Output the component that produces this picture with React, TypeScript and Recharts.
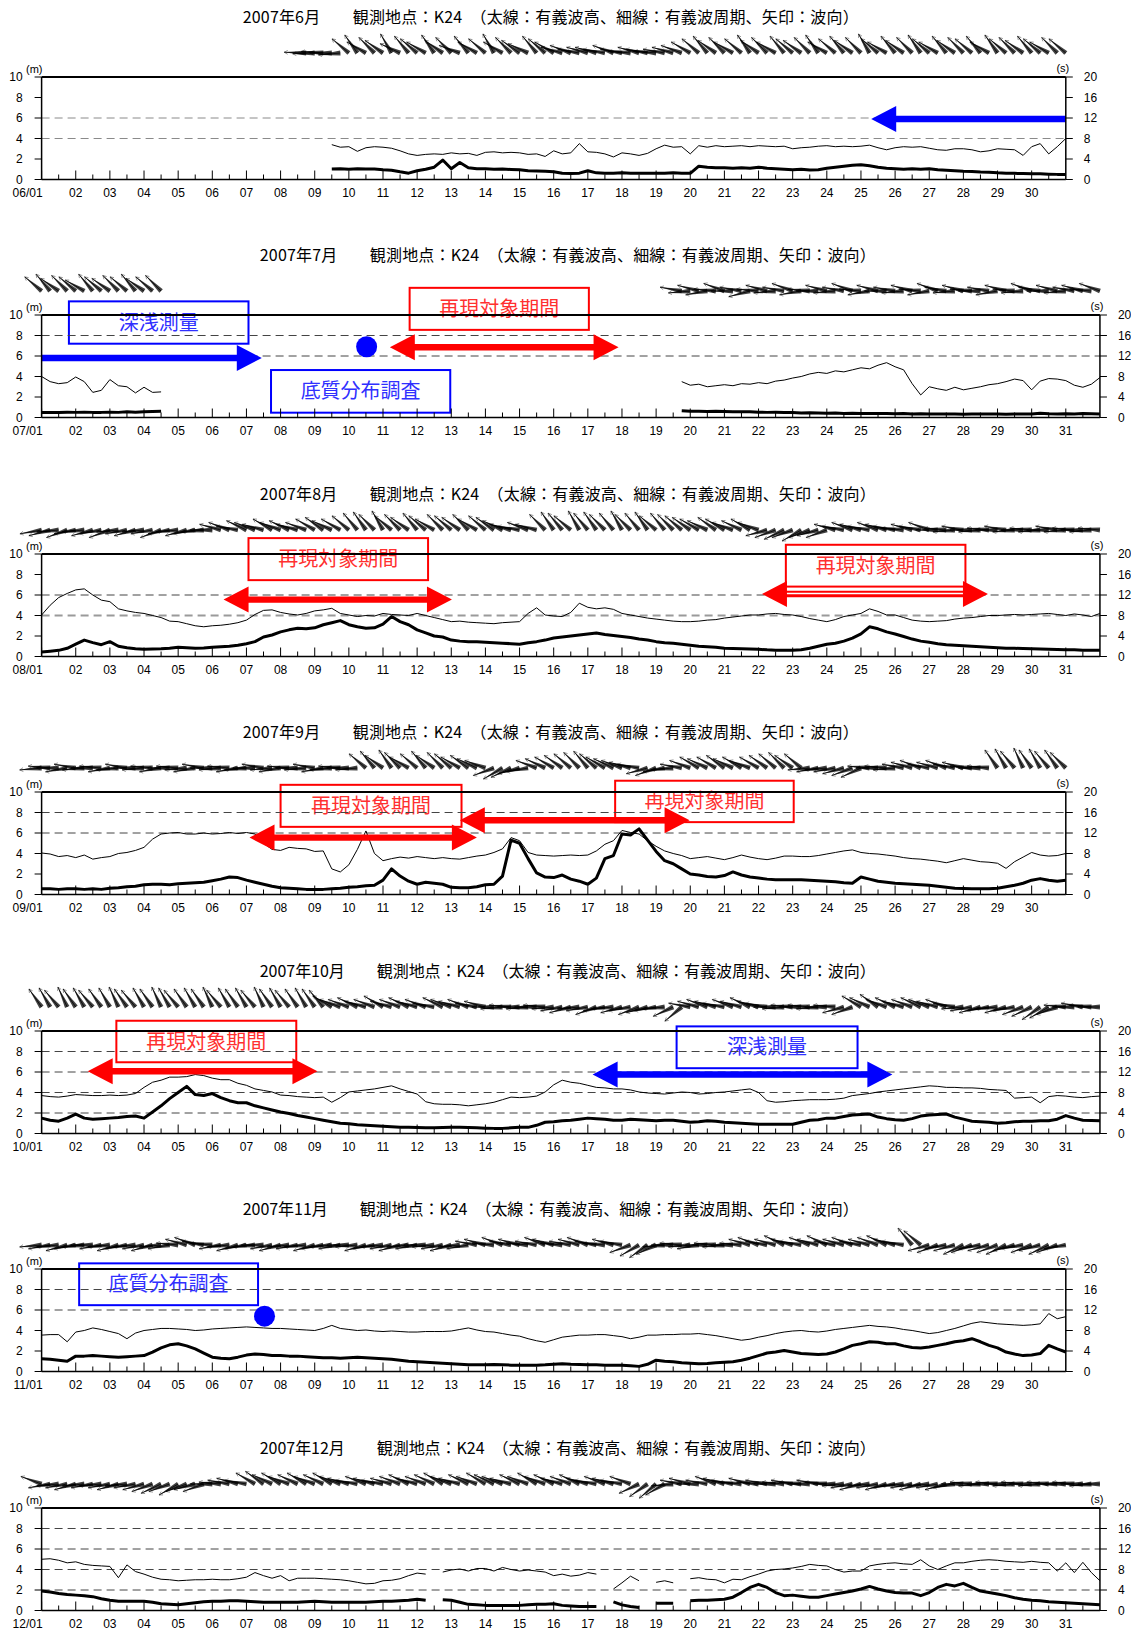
import React from 'react';
import { ComposedChart, Line, XAxis, YAxis, ReferenceLine, ReferenceArea, ReferenceDot, Scatter } from 'recharts';

const PAGE_W = 1131;
const PAGE_H = 1630;
const PLOT_LEFT = 41.6;
const DAY_W = 34.14;
const PLOT_H = 102.5;
const FIRST_TOP = 76.7;
const PANEL_STEP = 238.5;
const CHART_PAD_TOP = 60;
const X_AXIS_H = 30;
const CHART_H = 200;
const STRIP_H = 60;
const STRIP_GAP = 24;
const ARROW_LEN = 22;

const H_TICKS = [0, 2, 4, 6, 8, 10];
const T_TICKS = [0, 4, 8, 12, 16, 20];
const DAY_LABELS = ['01','02','03','04','05','06','07','08','09','10','11','12','13','14','15','16','17','18','19','20','21','22','23','24','25','26','27','28','29','30','31'];

// ---------------- June ----------------
const junH = [1.02,1.04,
 1.0,1.04,1.02,1.03, 0.95,0.9,0.75,0.62, 0.85,1.0,1.2,1.9, 1.05,1.65,1.15,1.05,
 1.05,1.0,1.02,0.98, 0.95,0.85,0.82,0.8, 0.75,0.6,0.58,0.62, 0.85,0.65,0.62,0.6,
 0.65,0.6,0.62,0.6, 0.62,0.6,0.65,0.62, 0.6,1.3,1.2,1.15, 1.15,1.1,1.15,1.1,
 1.2,1.1,1.05,1.0, 0.95,1.0,0.92,0.95, 1.1,1.2,1.3,1.4, 1.45,1.35,1.2,1.1,
 1.05,1.0,1.05,1.0, 1.05,0.95,0.9,0.85, 0.8,0.78,0.72,0.7, 0.65,0.62,0.6,0.58,
 0.55,0.55,0.52,0.5, 0.5];
const junT = [6.8,6.3,
 6.4,5.5,6.2,6.4, 6.3,6.1,5.6,5.0, 4.7,4.9,5.0,4.9, 5.2,5.0,5.1,4.7,
 5.3,5.4,5.2,5.3, 5.2,4.9,5.0,4.5, 5.6,5.0,5.2,7.0, 5.4,5.3,5.0,4.4,
 5.2,5.0,4.7,5.1, 6.0,6.7,6.3,6.4, 5.0,6.6,6.3,6.6, 6.4,6.5,6.6,6.4,
 6.6,6.5,6.4,6.5, 6.0,6.2,6.3,6.5, 6.6,6.4,6.5,6.4, 6.5,6.7,6.2,5.8,
 6.2,6.4,6.3,6.4, 6.1,5.8,5.7,6.0, 6.0,5.8,5.4,5.6, 6.0,5.9,5.8,4.7,
 6.4,7.0,5.0,6.4, 8.0];
const junA = [-178,178,-176,180,175,
 -140,-125,-150,-135,-145,-120,-155,-130,-140,-150,-125,-145,-135,-160,-130,-150,-140,-120,-150,-135,-145,-155,-130,-140,-150,-165,-160,-170,-165,
 -165,-170,-160,-170,-175,-165,-170,-175,-170,-165,-160,-150,
 -140,-130,-145,-135,-150,-140,-125,-145,-135,-150,-130,-140,-145,-135,-125,-150,-140,-130,-145,-135,-120,-140,-150,-130,-145,-135,-125,-140,-150,-130,-145,-135,-140,-130,-150,-125,-140,-135,-145,-130,-140,-150,-135,-140];
const junGrid = [6, 4];
const junBoxes = [];
const junArrows = [{ x1: 30.0, x2: 24.3, y: 5.9, c: 'blue', dbl: false }];
const junDots = [];

// ---------------- July ----------------
const julH1 = [0.5,0.5,0.48,0.52, 0.5,0.52,0.5,0.5, 0.52,0.5,0.55,0.52, 0.55,0.58,0.6];
const julT1 = [8.0,7.0,6.6,6.8, 7.9,7.0,4.9,5.3, 7.4,6.2,6.0,4.8, 5.9,4.9,5.0];
const julH2 = [0.65,
 0.6,0.62,0.58,0.6, 0.58,0.55,0.57,0.55, 0.52,0.5,0.52,0.48, 0.48,0.45,0.47,0.45,
 0.42,0.44,0.4,0.42, 0.4,0.38,0.4,0.38, 0.36,0.38,0.35,0.37, 0.35,0.33,0.35,0.34,
 0.32,0.34,0.33,0.35, 0.33,0.32,0.35,0.33, 0.34,0.42,0.36,0.35, 0.37,0.35,0.38,0.36, 0.35];
const julT2 = [7.0,
 6.3,6.5,6.0,6.2, 6.4,6.2,6.6,6.5, 6.8,6.6,7.1,7.3, 7.7,8.0,8.5,8.8,
 8.6,9.1,8.9,9.3, 9.7,9.5,10.2,10.7, 9.9,9.3,6.6,4.4, 6.0,5.6,5.3,5.9,
 5.4,5.7,6.0,6.4, 6.6,7.0,7.5,7.2, 5.4,7.1,7.6,7.5, 7.2,6.3,5.9,6.5, 7.8];
const julA1 = [-140,-130,-145,-135,-140,-150,-130,-140,-145,-135,-140,-130,-145,-140,-135];
const julA2 = [-170,175,-165,170,-175,-160,180,-170,165,-175,-165,175,-170,-160,170,-175,180,-165,175,-170,-160,-175,170,-165,180,-170,175,-165,-175,170,-160,-170,175,-165,-175,180,-170,170,-165,-175,175,-160,-170,180,-165,175,-170,-165,-175,-160];
const julGrid = [8, 6];
const julBoxes = [
  { x1: 0.8, x2: 6.06, y1: 7.2, y2: 11.33, text: '深浅測量', c: 'blue' },
  { x1: 10.78, x2: 16.03, y1: 8.55, y2: 12.65, text: '再現対象期間', c: 'red' },
  { x1: 6.72, x2: 11.97, y1: 0.47, y2: 4.63, text: '底質分布調査', c: 'blue' },
];
const julArrows = [
  { x1: 0, x2: 6.45, y: 5.8, c: 'blue', dbl: false },
  { x1: 10.2, x2: 16.9, y: 6.85, c: 'red', dbl: true },
];
const julDots = [{ x: 9.52, y: 6.9, c: 'blue' }];

// ---------------- August ----------------
const augH = [0.45,0.52,0.6,0.8, 1.2,1.6,1.35,1.15, 1.45,1.0,0.85,0.75, 0.7,0.72,0.75,0.8,
 0.9,0.85,0.8,0.82, 0.9,0.95,1.0,1.1, 1.25,1.45,1.9,2.1, 2.4,2.6,2.75,2.7,
 2.8,3.1,3.3,3.5, 3.1,2.9,2.75,2.8, 3.15,3.9,3.4,3.1, 2.6,2.3,2.0,1.9,
 1.6,1.5,1.45,1.45, 1.4,1.35,1.3,1.25, 1.2,1.35,1.45,1.6, 1.8,1.9,2.0,2.1,
 2.2,2.3,2.15,2.05, 1.95,1.85,1.7,1.6, 1.45,1.35,1.3,1.2, 1.1,1.0,0.95,0.9,
 0.8,0.78,0.75,0.72, 0.7,0.65,0.62,0.6, 0.6,0.65,0.8,1.0, 1.2,1.3,1.5,1.8,
 2.2,2.9,2.7,2.4, 2.2,1.95,1.7,1.5, 1.4,1.25,1.15,1.1, 1.05,1.0,0.95,0.9,
 0.85,0.8,0.8,0.78, 0.75,0.72,0.7,0.68, 0.65,0.65,0.62,0.6, 0.6];
const augT = [8.1,10.0,11.5,12.3, 13.0,13.2,12.0,11.0, 10.7,9.3,8.9,8.6, 8.4,8.0,7.6,6.9,
 6.8,6.4,6.0,5.8, 6.0,6.1,6.3,6.6, 7.1,8.2,9.0,9.1, 8.6,8.3,8.1,8.4,
 8.9,9.1,9.4,8.4, 8.1,7.8,8.0,7.9, 8.4,8.2,8.1,8.0, 8.4,8.0,7.6,7.2,
 6.8,6.9,6.7,6.6, 6.5,6.4,6.6,6.7, 6.8,8.4,9.5,8.1, 7.9,7.8,8.6,10.4,
 9.6,9.3,9.5,9.2, 8.4,8.1,7.8,7.5, 7.3,7.1,6.9,6.8, 6.8,6.9,7.1,7.2,
 7.5,7.7,7.9,8.1, 8.1,8.3,8.4,8.2, 8.1,7.8,7.4,7.1, 6.8,7.2,7.8,8.1,
 8.4,9.3,8.8,8.1, 8.1,7.6,7.1,6.9, 6.8,6.9,7.0,7.3, 7.5,7.6,7.8,8.0,
 8.0,8.1,8.2,8.1, 8.2,8.3,8.4,8.2, 8.0,8.3,8.1,7.8, 8.4];
const augA = [170,165,175,160,170,175,165,170,160,175,170,165,175,170,160,170,175,165,170,175,180,
 -165,-160,-170,-155,-160,-165,-150,-160,-155,-165,-160,-150,-145,-155,-150,-140,
 -130,-125,-135,-120,
 -140,-135,-145,-130,-140,-150,-135,-140,-145,-135,-150,-140,-145,-155,
 -165,-170,-160,-165,
 -135,-125,-130,-140,-120,-130,-125,-135,-130,-120,-135,-130,-125,-140,-130,-135,-140,-145,
 -150,-155,-145,-150,-160,-155,-150,-160,
 165,160,155,160,150,160,165,160,
 -165,-170,-160,-165,-170,-160,-165,-170,-175,-165,-170,-160,
 180,-175,175,-170,180,175,-175,180,-170,175,180,-175,175,180,-170,175,-175,180,175,-175];
const augGrid = [6, 4];
const augBoxes = [
  { x1: 6.06, x2: 11.32, y1: 7.45, y2: 11.55, text: '再現対象期間', c: 'red' },
  { x1: 21.8, x2: 27.06, y1: 6.82, y2: 10.9, text: '再現対象期間', c: 'red' },
];
const augArrows = [
  { x1: 5.33, x2: 12.02, y: 5.55, c: 'red', dbl: true },
  { x1: 21.1, x2: 27.72, y: 6.1, c: 'red', dbl: true, stripe: true },
];
const augDots = [];

// ---------------- September ----------------
const sepH = [0.55,0.55,0.5,0.55, 0.55,0.5,0.55,0.5, 0.6,0.65,0.75,0.8, 0.95,1.0,1.0,0.95,
 1.05,1.1,1.15,1.2, 1.35,1.5,1.7,1.65, 1.4,1.2,1.0,0.8, 0.65,0.6,0.55,0.5,
 0.5,0.5,0.55,0.6, 0.7,0.75,0.85,0.9, 1.4,2.5,1.8,1.3, 1.0,1.2,1.1,1.0,
 0.7,0.65,0.65,0.75, 0.95,1.0,1.8,5.3, 5.0,3.5,2.1,1.7, 1.65,1.9,1.5,1.3,
 1.0,1.6,3.5,3.8, 5.9,5.8,6.4,5.3, 4.2,3.3,3.0,2.5, 2.0,1.9,1.75,1.7,
 1.85,2.2,1.9,1.7, 1.6,1.5,1.45,1.45, 1.45,1.45,1.4,1.35, 1.3,1.25,1.15,1.1,
 1.7,1.5,1.3,1.2, 1.1,1.05,1.0,0.95, 0.9,0.8,0.7,0.6, 0.58,0.55,0.55,0.55,
 0.6,0.75,0.9,1.1, 1.4,1.55,1.4,1.3, 1.4];
const sepT = [8.1,7.9,7.4,7.6, 7.2,7.7,6.9,7.2, 7.4,8.0,8.2,8.6, 9.2,10.8,11.8,12.0,
 12.1,11.8,11.8,12.0, 11.8,11.9,12.1,11.9, 12.1,11.8,10.0,8.8, 8.6,9.2,9.0,8.9,
 8.4,8.5,5.0,4.4, 5.8,8.8,12.4,8.0, 6.6,7.0,7.3,7.1, 7.4,7.2,7.0,7.2,
 7.0,6.9,7.2,7.5, 7.7,8.2,8.9,11.1, 10.5,8.2,7.7,7.6, 7.5,7.6,7.7,7.6,
 7.7,8.5,9.8,10.5, 12.5,12.1,11.8,10.5, 9.4,8.5,8.0,7.6, 7.0,7.2,7.4,7.1,
 6.8,7.2,7.7,7.3, 7.0,6.8,7.1,7.5, 7.5,7.4,7.4,7.6, 7.9,8.2,8.5,8.7,
 8.2,8.0,7.9,7.7, 7.5,7.2,7.0,6.9, 6.7,6.5,6.2,6.6, 7.0,6.7,6.4,6.3,
 6.1,5.1,6.4,7.3, 8.2,7.7,7.5,7.6, 8.0];
const sepA = [175,-175,180,170,-170,175,180,-175,170,175,-170,180,175,-175,170,180,-175,175,170,-170,180,175,-175,170,175,180,-170,175,170,-175,180,175,-170,170,175,-175,180,175,
 -140,-130,-145,-125,-135,-150,-140,-130,-145,-135,-140,-150,-145,-155,-160,
 160,150,155,165,170,
 -160,-155,-150,-145,-140,-135,-130,-140,-150,-155,-160,-165,-170,
 165,160,170,175,
 -170,-160,-150,-155,-150,-145,-155,-150,-160,-150,-145,
 -140,-135,-145,-140,
 175,170,175,170,165,
 160,155,
 -175,180,-175,175,-170,
 -165,-160,-170,-165,-160,-170,-165,
 -175,180,-175,
 -125,-120,-130,-115,-125,-120,-130,-125,-135];
const sepGrid = [8, 6];
const sepBoxes = [
  { x1: 7.0, x2: 12.3, y1: 6.6, y2: 10.7, text: '再現対象期間', c: 'red' },
  { x1: 16.8, x2: 22.03, y1: 7.06, y2: 11.1, text: '再現対象期間', c: 'red' },
];
const sepArrows = [
  { x1: 6.09, x2: 12.75, y: 5.55, c: 'red', dbl: true },
  { x1: 12.25, x2: 18.98, y: 7.25, c: 'red', dbl: true },
];
const sepDots = [];

// ---------------- October ----------------
const octH = [1.5,1.3,1.2,1.5, 1.9,1.5,1.4,1.45, 1.5,1.55,1.65,1.7, 1.5,2.1,2.7,3.4,
 4.0,4.6,3.8,3.7, 3.9,3.5,3.2,3.0, 3.0,2.7,2.5,2.3, 2.1,1.95,1.75,1.6,
 1.45,1.3,1.15,1.0, 0.95,0.85,0.8,0.75, 0.7,0.65,0.6,0.6, 0.58,0.55,0.55,0.58,
 0.6,0.6,0.58,0.55, 0.52,0.5,0.5,0.55, 0.6,0.6,0.8,1.1, 1.15,1.25,1.3,1.4,
 1.5,1.45,1.4,1.3, 1.3,1.4,1.35,1.3, 1.25,1.3,1.3,1.2, 1.1,1.15,1.25,1.2,
 1.1,1.05,1.0,0.95, 0.9,0.9,0.9,0.9, 0.9,1.1,1.3,1.35, 1.5,1.5,1.65,1.8,
 1.85,1.9,1.6,1.45, 1.35,1.3,1.45,1.7, 1.8,1.85,1.9,1.6, 1.4,1.2,1.15,1.1,
 1.0,1.05,1.15,1.2, 1.2,1.25,1.25,1.4, 1.75,1.5,1.3,1.28, 1.25];
const octT = [7.4,7.2,7.1,7.3, 7.6,7.5,7.4,7.4, 7.5,7.4,7.5,7.8, 9.0,10.0,10.4,11.0,
 11.0,11.1,11.5,11.3, 10.8,10.5,10.5,9.8, 9.4,8.7,8.4,8.1, 7.5,7.4,7.2,7.1,
 7.0,7.1,6.1,7.0, 8.1,8.3,8.5,8.7, 9.0,9.3,8.7,8.2, 7.7,6.2,5.8,5.7,
 5.7,5.6,5.4,5.6, 5.8,6.1,6.6,7.1, 7.0,7.1,7.3,8.1, 9.5,10.4,10.0,9.8,
 9.4,9.0,8.9,8.7, 8.7,8.5,8.1,7.9, 7.8,7.7,7.9,8.1, 8.0,7.7,7.8,8.0,
 8.1,8.3,8.5,8.7, 8.0,6.4,6.1,6.2, 6.4,6.5,6.6,6.6, 6.6,6.7,6.9,7.4,
 7.6,7.8,8.1,8.3, 8.5,8.7,8.9,9.1, 9.3,9.2,9.0,9.0, 8.9,8.9,8.8,8.6,
 8.5,8.4,6.9,7.0, 7.1,6.0,7.2,7.4, 7.3,7.1,7.0,7.2, 7.3];
const octA = [-125,-120,-130,-115,-125,-120,-130,-125,-120,-115,-125,-130,-120,-125,-115,-120,-130,-125,-120,-125,-115,-130,-120,-125,-120,-130,-115,-125,-120,-130,-125,-120,-125,-130,
 -150,-160,
 -160,-155,-165,-160,-150,-165,-160,-155,-165,-160,-170,-155,-160,-165,-160,-170,-165,
 180,175,-175,180,175,180,-175,175,
 170,165,175,170,160,170,175,165,170,160,165,170,175,155,140,
 -170,-165,-160,-165,-170,-160,-165,-155,-165,-170,
 180,175,-175,180,-175,175,180,-175,
 165,160,-150,
 -155,-145,-160,-155,-165,-160,-155,-160,-165,-160,-170,
 175,170,165,170,175,165,170,160,
 155,145,150,160,
 -175,180,-170,-175,180];
const octGrid = [8, 6, 4, 2];
const octBoxes = [
  { x1: 2.19, x2: 7.46, y1: 6.95, y2: 11.0, text: '再現対象期間', c: 'red' },
  { x1: 18.6, x2: 23.9, y1: 6.37, y2: 10.45, text: '深浅測量', c: 'blue' },
];
const octArrows = [
  { x1: 1.35, x2: 8.08, y: 6.08, c: 'red', dbl: true },
  { x1: 16.14, x2: 24.92, y: 5.75, c: 'blue', dbl: true },
];
const octDots = [];

// ---------------- November ----------------
const novH = [1.25,1.2,1.1,1.0, 1.5,1.5,1.55,1.5, 1.45,1.4,1.45,1.5, 1.55,1.9,2.3,2.6,
 2.7,2.5,2.2,1.8, 1.4,1.3,1.25,1.4, 1.6,1.7,1.65,1.55, 1.55,1.5,1.5,1.45,
 1.4,1.35,1.35,1.3, 1.35,1.4,1.35,1.3, 1.25,1.2,1.1,1.0, 0.95,0.9,0.85,0.8,
 0.75,0.7,0.65,0.65, 0.65,0.68,0.65,0.62, 0.62,0.6,0.62,0.65, 0.7,0.75,0.7,0.68,
 0.65,0.65,0.62,0.6, 0.6,0.55,0.5,0.7, 1.1,1.0,0.95,0.85, 0.8,0.75,0.78,0.85,
 0.9,0.95,1.1,1.3, 1.55,1.8,1.9,2.05, 1.9,1.75,1.7,1.65, 1.7,1.9,2.2,2.55,
 2.7,2.9,2.85,2.7, 2.7,2.5,2.35,2.3, 2.4,2.55,2.7,2.9, 3.0,3.2,2.9,2.55,
 2.3,1.9,1.7,1.55, 1.6,1.75,2.55,2.2, 1.9];
const novT = [7.1,7.2,7.2,5.8, 7.7,8.0,8.5,8.2, 7.8,7.4,6.4,7.5, 8.0,8.2,8.4,8.4,
 8.3,8.2,8.0,8.1, 8.3,8.4,8.5,8.6, 8.7,8.6,8.5,8.4, 8.4,8.3,8.2,8.1,
 8.0,8.4,9.0,8.4, 8.2,8.0,8.1,7.9, 7.8,7.9,7.8,7.7, 7.7,7.8,7.8,7.8,
 7.9,8.2,8.5,8.1, 7.8,7.7,7.4,7.1, 6.9,6.4,6.0,5.7, 6.2,6.7,6.9,7.1,
 7.1,7.2,7.2,7.0, 6.8,6.4,6.7,7.1, 7.1,7.2,7.2,7.3, 7.3,7.4,7.2,7.0,
 6.7,6.4,6.1,6.3, 6.7,7.0,7.4,7.7, 7.9,8.0,7.8,7.7, 7.9,8.2,8.4,8.6,
 8.8,9.0,8.8,8.7, 8.5,8.2,8.0,7.7, 7.4,7.6,8.0,8.4, 8.9,9.4,9.7,9.5,
 9.3,9.2,9.1,9.0, 9.1,9.3,11.3,10.3, 10.7];
const novA = [175,170,175,165,170,175,180,170,175,165,170,175,170,165,175,170,-175,
 -165,-160,-170,-175,
 170,175,165,170,175,180,170,165,175,170,175,165,170,175,170,180,175,165,170,175,170,165,175,170,180,175,170,165,175,170,
 -170,-165,-175,-160,-170,-165,-175,-170,-160,-165,-175,-170,-165,-160,-170,-175,-165,-170,
 160,150,145,155,
 175,180,-175,175,170,180,-175,175,180,-175,
 -165,-160,-170,-165,-155,-165,-170,-160,-165,-155,-170,-165,-160,-170,-165,-160,-155,-165,-170,
 -130,-140,
 165,160,170,165,155,160,170,165,160,155,165,170,160,165,155,160,170];
const novGrid = [8, 6];
const novBoxes = [{ x1: 1.1, x2: 6.34, y1: 6.47, y2: 10.55, text: '底質分布調査', c: 'blue' }];
const novArrows = [];
const novDots = [{ x: 6.53, y: 5.4, c: 'blue' }];

// ---------------- December ----------------
const decH = [1.9,1.8,1.65,1.55, 1.5,1.45,1.35,1.15, 1.0,0.9,0.9,0.9, 0.9,0.8,0.65,0.6,
 0.55,0.65,0.75,0.85, 0.9,0.9,0.95,0.95, 0.9,0.85,0.8,0.8, 0.8,0.8,0.8,0.85,
 0.9,0.85,0.8,0.8, 0.8,0.8,0.8,0.85, 0.9,0.9,0.95,1.0, 1.1,1.0,null,1.05,
 1.0,0.8,0.6,0.55, 0.5,0.5,0.5,0.5, 0.5,0.55,0.6,0.62, 0.65,0.5,0.45,0.4,
 0.4,0.4,null,0.85, 0.55,0.4,0.3,null, 0.7,0.7,0.7,null, 0.95,1.0,1.0,1.05,
 1.1,1.3,1.75,2.25, 2.55,2.25,1.75,1.45, 1.5,1.4,1.3,1.3, 1.45,1.6,1.75,1.9,
 2.1,2.35,2.1,1.9, 1.75,1.7,1.7,1.45, 1.75,2.25,2.55,2.4, 2.65,2.25,1.9,1.75,
 1.6,1.45,1.25,1.1, 1.0,0.95,0.85,0.8, 0.75,0.7,0.65,0.6, 0.55];
const decT = [10.0,10.1,9.8,9.3, 9.5,9.0,8.8,8.7, 8.6,6.4,8.9,7.6, 7.1,6.5,6.1,6.0,
 5.8,5.9,6.0,6.0, 6.1,6.0,6.0,6.2, 6.5,7.4,6.8,6.3, 6.8,5.8,6.3,6.3,
 6.3,6.2,6.1,6.0, 5.8,5.5,5.2,5.3, 5.8,5.9,6.2,6.8, 7.3,7.1,null,7.5,
 7.9,8.1,7.7,8.2, 8.2,7.7,8.4,8.0, 7.7,7.9,7.7,7.5, 6.8,7.1,6.7,6.9,
 7.4,7.1,null,4.2, 5.4,6.7,5.8,null, 5.5,5.8,5.4,null, 6.2,6.4,6.1,6.0,
 5.4,6.1,6.0,6.6, 7.1,7.7,8.0,8.1, 8.3,8.6,9.0,8.8, 8.7,8.0,7.5,7.7,
 7.7,8.7,9.0,9.2, 9.3,9.1,9.0,9.9, 8.7,8.0,8.7,9.3, 9.3,9.6,9.8,9.9,
 9.8,9.6,9.5,9.4, 9.6,9.4,9.3,7.7, 9.3,7.4,9.4,7.4, 5.8];
const decA = [-160,170,175,170,165,175,170,175,170,165,175,170,
 165,160,155,160,150,160,165,160,
 180,-175,-170,-165,-170,
 -150,-145,-155,-150,-160,-155,-150,-160,-155,-150,-160,
 -165,-170,-160,-165,-170,-165,
 -160,-155,-165,-160,-155,-150,-160,-165,-155,-160,-150,-155,-160,-165,-155,-160,-150,-160,-155,-165,-160,-155,
 -165,-170,-160,-165,-170,-160,
 155,145,140,150,
 175,-170,-165,180,-170,-160,-165,-170,-175,-165,
 -175,-170,180,-175,-170,-175,180,-170,-175,180,
 175,170,165,175,170,165,170,175,170,165,175,170,165,170,
 180,-175,175,180,-175,180,175,-175,180,175,-175,180,
 180,-175,180,175,180];
const decGrid = [8, 6, 4, 2];
const decBoxes = [];
const decArrows = [];
const decDots = [];

const MONTHS = [
  { name: '6月', mm: '06', days: 30, H: [[34, junH]], T: [[34, junT]], A: [[31, junA]], grid: junGrid, boxes: junBoxes, arrows: junArrows, dots: junDots },
  { name: '7月', mm: '07', days: 31, H: [[0, julH1], [75, julH2]], T: [[0, julT1], [75, julT2]], A: [[0, julA1], [75, julA2]], grid: julGrid, boxes: julBoxes, arrows: julArrows, dots: julDots },
  { name: '8月', mm: '08', days: 31, H: [[0, augH]], T: [[0, augT]], A: [[0, augA]], grid: augGrid, boxes: augBoxes, arrows: augArrows, dots: augDots },
  { name: '9月', mm: '09', days: 30, H: [[0, sepH]], T: [[0, sepT]], A: [[0, sepA]], grid: sepGrid, boxes: sepBoxes, arrows: sepArrows, dots: sepDots },
  { name: '10月', mm: '10', days: 31, H: [[0, octH]], T: [[0, octT]], A: [[0, octA]], grid: octGrid, boxes: octBoxes, arrows: octArrows, dots: octDots },
  { name: '11月', mm: '11', days: 30, H: [[0, novH]], T: [[0, novT]], A: [[0, novA]], grid: novGrid, boxes: novBoxes, arrows: novArrows, dots: novDots },
  { name: '12月', mm: '12', days: 31, H: [[0, decH]], T: [[0, decT]], A: [[0, decA]], grid: decGrid, boxes: decBoxes, arrows: decArrows, dots: decDots },
];

const COLORS: any = {
  red: { stroke: '#ff0000', text: '#ff3030', fill: '#ff0000' },
  blue: { stroke: '#0000ff', text: '#3030ff', fill: '#0000ff' },
};

const NUM_FONT = "'Liberation Sans', Arial, sans-serif";
const JP_FONT = "'Noto Sans CJK JP', 'Noto Sans CJK SC', sans-serif";

function place(n: number, segs: any[]) {
  const out: (number | null)[] = new Array(n).fill(null);
  segs.forEach(([s, arr]: [number, (number | null)[]]) => {
    arr.forEach((v, i) => {
      if (s + i < n) out[s + i] = v;
    });
  });
  return out;
}

function gridStyle(mm: string, v: number) {
  if (mm === '06') return { stroke: '#8a8a8a', w: 1 };
  if (mm === '08' && v === 4) return { stroke: '#9a9a9a', w: 2 };
  return { stroke: '#444', w: 1 };
}

const StripArrow = (props: any) => {
  const { cx, cy, payload } = props;
  if (cx == null || cy == null || !payload) return <g />;
  const a = (payload.a * Math.PI) / 180;
  const ux = Math.cos(a);
  const uy = Math.sin(a);
  const px = -uy;
  const py = ux;
  const ex = cx + ARROW_LEN * ux;
  const ey = cy + ARROW_LEN * uy;
  const w = 2.4;
  const h = 4;
  const b1 = a + Math.PI - 0.5;
  const b2 = a + Math.PI + 0.5;
  return (
    <g>
      <polygon
        points={`${cx + px * w},${cy + py * w} ${ex},${ey} ${cx - px * w},${cy - py * w}`}
        fill="#000"
        fillOpacity={0.75}
      />
      <line x1={cx} y1={cy} x2={ex} y2={ey} stroke="#000" strokeWidth={0.8} />
      <path
        d={`M${ex + h * Math.cos(b1)},${ey + h * Math.sin(b1)}L${ex},${ey}L${ex + h * Math.cos(b2)},${ey + h * Math.sin(b2)}`}
        stroke="#000"
        strokeWidth={0.6}
        strokeOpacity={0.7}
        fill="none"
      />
    </g>
  );
};

function blockArrow(p: any, arrow: any) {
  const { x1, y1, x2, y2 } = p;
  if (x1 == null || x2 == null) return <g />;
  const y = (y1 + y2) / 2;
  const dir = x2 >= x1 ? 1 : -1;
  const HL = 25, HH = 13, S = 3.2;
  let pts: number[][];
  if (arrow.dbl) {
    pts = [
      [x1, y], [x1 + dir * HL, y - HH], [x1 + dir * HL, y - S], [x2 - dir * HL, y - S], [x2 - dir * HL, y - HH],
      [x2, y], [x2 - dir * HL, y + HH], [x2 - dir * HL, y + S], [x1 + dir * HL, y + S], [x1 + dir * HL, y + HH],
    ];
  } else {
    pts = [
      [x1, y - S], [x2 - dir * HL, y - S], [x2 - dir * HL, y - HH], [x2, y], [x2 - dir * HL, y + HH], [x2 - dir * HL, y + S], [x1, y + S],
    ];
  }
  const col = COLORS[arrow.c];
  return (
    <g>
      <polygon points={pts.map((q) => q.join(',')).join(' ')} fill={col.fill} stroke="none" />
      {arrow.stripe ? (
        <line x1={x1 + dir * HL} x2={x2 - dir * HL} y1={y - 0.5} y2={y - 0.5} stroke="#fff" strokeWidth={1.3} />
      ) : null}
    </g>
  );
}

function boxShape(p: any, box: any) {
  const col = COLORS[box.c];
  const { x, y, width, height } = p;
  if (x == null || y == null) return <g />;
  return (
    <g>
      <rect x={x} y={y} width={width} height={height} fill="#fff" stroke={col.stroke} strokeWidth={2} />
      <text x={x + width / 2} y={y + height / 2 + 7} textAnchor="middle" fontSize={20} fill={col.text} fontFamily={JP_FONT}>
        {box.text}
      </text>
    </g>
  );
}

function makeXTick(mm: string) {
  return (props: any) => {
    const { x, y, payload } = props;
    const v = payload.value;
    const d = Math.round(v);
    const isDay = Math.abs(v - d) < 1e-6;
    return (
      <g>
        <line x1={x} y1={y} x2={x} y2={y - (isDay ? 9 : 5)} stroke="#000" strokeWidth={1} />
        {isDay ? (
          <text
            x={d === 0 ? x + 1 : x}
            y={y + 17}
            textAnchor={d === 0 ? 'end' : 'middle'}
            fontSize={12}
            fontFamily={NUM_FONT}
            fill="#000"
          >
            {d === 0 ? `${mm}/${DAY_LABELS[0]}` : DAY_LABELS[d]}
          </text>
        ) : null}
      </g>
    );
  };
}

function Panel({ m, k }: any) {
  const top = FIRST_TOP + PANEL_STEP * k;
  const n = m.days * 4 + 1;
  const H = place(n, m.H);
  const T = place(n, m.T);
  const A = place(n, m.A);
  const rows = H.map((h, i) => ({ t: i / 4, h, p: T[i] }));
  const strip: any[] = [];
  A.forEach((a, i) => {
    if (a != null) strip.push({ t: i / 4, y: 0, a });
  });
  const plotW = m.days * DAY_W;
  const rightW = PAGE_W - PLOT_LEFT - plotW;
  const ticks: number[] = [];
  for (let d = 0; d < m.days; d++) {
    ticks.push(d);
    ticks.push(d + 0.5);
  }
  const XTick = makeXTick(m.mm);
  return (
    <>
      <div style={{ position: 'absolute', left: 0, top: top - STRIP_GAP - STRIP_H / 2, width: PAGE_W, height: STRIP_H }}>
        <ComposedChart width={PAGE_W} height={STRIP_H} data={strip} margin={{ top: 0, bottom: 0, left: PLOT_LEFT, right: rightW }}>
          <XAxis type="number" dataKey="t" domain={[0, m.days]} hide />
          <YAxis type="number" dataKey="y" domain={[-1, 1]} hide />
          <Scatter data={strip} dataKey="y" shape={StripArrow} isAnimationActive={false} />
        </ComposedChart>
      </div>
      <div style={{ position: 'absolute', left: 0, top: top - CHART_PAD_TOP, width: PAGE_W, height: CHART_H }}>
        <ComposedChart
          width={PAGE_W}
          height={CHART_H}
          data={rows}
          margin={{ top: CHART_PAD_TOP, bottom: CHART_H - CHART_PAD_TOP - PLOT_H - X_AXIS_H, left: 0, right: 0 }}
        >
          <XAxis
            type="number"
            dataKey="t"
            domain={[0, m.days]}
            ticks={ticks}
            interval={0}
            tick={XTick}
            tickLine={false}
            tickSize={0}
            tickMargin={0}
            height={X_AXIS_H}
            axisLine={{ stroke: '#000', strokeWidth: 1.5 }}
          />
          <YAxis
            yAxisId="h"
            orientation="left"
            type="number"
            domain={[0, 10]}
            ticks={H_TICKS}
            interval={0}
            width={PLOT_LEFT}
            tickSize={7}
            tickMargin={12}
            tick={{ fontSize: 12, fill: '#000', fontFamily: NUM_FONT }}
            tickLine={{ stroke: '#000' }}
            axisLine={{ stroke: '#000', strokeWidth: 1.5 }}
          />
          <YAxis
            yAxisId="p"
            orientation="right"
            type="number"
            domain={[0, 20]}
            ticks={T_TICKS}
            interval={0}
            width={rightW}
            tickSize={7}
            tickMargin={11}
            tick={{ fontSize: 12, fill: '#000', fontFamily: NUM_FONT, textAnchor: 'start' }}
            tickLine={{ stroke: '#000' }}
            axisLine={{ stroke: '#000', strokeWidth: 1.5 }}
          />
          {m.grid.map((v: number) => {
            const s = gridStyle(m.mm, v);
            return <ReferenceLine key={'g' + v} yAxisId="h" y={v} stroke={s.stroke} strokeWidth={s.w} strokeDasharray="8 5" />;
          })}
          <ReferenceLine yAxisId="h" y={10} stroke="#000" strokeWidth={2} />
          <Line yAxisId="p" type="linear" dataKey="p" stroke="#000" strokeWidth={1} dot={false} isAnimationActive={false} connectNulls={false} />
          <Line yAxisId="h" type="linear" dataKey="h" stroke="#000" strokeWidth={3} strokeLinejoin="round" dot={false} isAnimationActive={false} connectNulls={false} />
          {m.boxes.map((b: any, i: number) => (
            <ReferenceArea
              key={'b' + i}
              yAxisId="h"
              x1={b.x1}
              x2={b.x2}
              y1={b.y1}
              y2={b.y2}
              ifOverflow="visible"
              shape={(p: any) => boxShape(p, b)}
            />
          ))}
          {m.arrows.map((a: any, i: number) => (
            <ReferenceLine
              key={'a' + i}
              yAxisId="h"
              segment={[{ x: a.x1, y: a.y }, { x: a.x2, y: a.y }]}
              ifOverflow="visible"
              shape={(p: any) => blockArrow(p, a)}
            />
          ))}
          {m.dots.map((d: any, i: number) => (
            <ReferenceDot key={'d' + i} yAxisId="h" x={d.x} y={d.y} r={10.5} fill={COLORS[d.c].fill} stroke="none" ifOverflow="visible" />
          ))}
        </ComposedChart>
      </div>
    </>
  );
}

export default function App() {
  return (
    <div style={{ position: 'absolute', left: 0, top: 0, width: PAGE_W, height: PAGE_H, background: '#fff', overflow: 'hidden' }}>
      <svg style={{ position: 'absolute', left: 0, top: 0 }} width={PAGE_W} height={PAGE_H}>
        {MONTHS.map((m, k) => {
          const top = FIRST_TOP + PANEL_STEP * k;
          const right = PLOT_LEFT + m.days * DAY_W;
          const title = `2007年${m.name}　　観測地点：K24　（太線：有義波高、細線：有義波周期、矢印：波向）`;
          return (
            <g key={k}>
              <text
                x={(PLOT_LEFT + right) / 2 - 3}
                y={top - 54}
                textAnchor="middle"
                fontSize={16}
                fontFamily={JP_FONT}
                fill="#000"
                textLength={616}
                lengthAdjust="spacing"
              >
                {title}
              </text>
              <text x={26} y={top - 4} fontSize={11} fontFamily={NUM_FONT} fill="#000">(m)</text>
              <text x={right - 3} y={top - 5} textAnchor="middle" fontSize={11} fontFamily={NUM_FONT} fill="#000">(s)</text>
            </g>
          );
        })}
      </svg>
      {MONTHS.map((m, k) => (
        <Panel key={m.mm} m={m} k={k} />
      ))}
    </div>
  );
}
